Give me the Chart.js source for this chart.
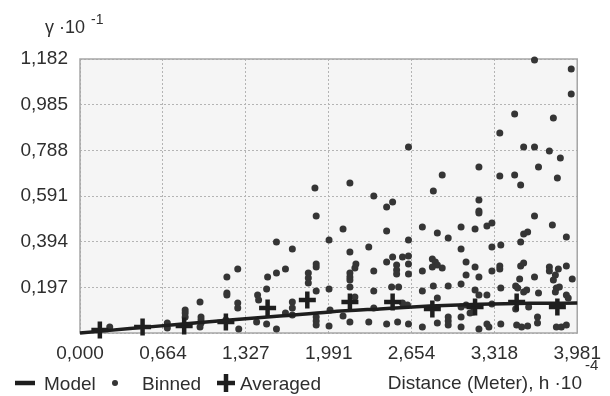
<!DOCTYPE html>
<html>
<head>
<meta charset="utf-8">
<script src="https://cdn.jsdelivr.net/npm/chart.js@4.4.1/dist/chart.umd.min.js"></script>
<style>
  html, body { margin: 0; padding: 0; background: #ffffff; }
  #wrap { width: 610px; height: 396px; position: relative; }
</style>
</head>
<body>
<div id="wrap"><canvas id="c" width="610" height="396"></canvas></div>
<script>
// Semivariogram: lag distance h (·10^-4 m) against semivariance γ (·10^-1)
const xTicks = [0, 0.664, 1.327, 1.991, 2.654, 3.318, 3.981];
const yTicks = [0, 0.197, 0.394, 0.591, 0.788, 0.985, 1.182];

// fitted model curve
const modelH     = [0, 0.4, 0.8, 1.2, 1.6, 2.0, 2.4, 2.8, 3.2, 3.6, 3.981];
const modelGamma = [0, 0.019, 0.038, 0.056, 0.073, 0.091, 0.104, 0.116, 0.124, 0.128, 0.129];

// averaged values per lag bin
const avgH     = [0.159, 0.501, 0.834, 1.168, 1.502, 1.820, 2.161, 2.503, 2.821, 3.163, 3.496, 3.822];
const avgGamma = [0.013, 0.026, 0.030, 0.047, 0.108, 0.142, 0.134, 0.134, 0.104, 0.112, 0.134, 0.112];

// binned empirical semivariances
const binnedH = [
  0.238, 0.699, 0.699, 0.842, 0.842, 0.842, 0.961, 0.969, 0.969, 0.969,
  0.961, 1.168, 1.176, 1.176, 1.176, 1.263, 1.263, 1.263, 1.271, 1.422,
  1.430, 1.414, 1.494, 1.502, 1.494, 1.573, 1.573, 1.573, 1.645, 1.645,
  1.700, 1.700, 1.700, 1.700, 1.828, 1.828, 1.828, 1.881, 1.891, 1.891,
  1.891, 1.891, 1.891, 1.891, 1.891, 1.994, 1.994, 2.002, 1.994,
  2.161, 2.352, 2.455, 2.503, 2.829, 2.106, 2.455, 2.741, 2.861, 2.948,
  2.630, 2.312, 2.161, 2.455, 2.503, 2.582, 2.630, 2.535, 2.535, 2.535,
  2.630, 2.630, 2.209, 2.201, 2.161, 2.161, 2.161, 2.352, 2.821, 2.845,
  2.861, 2.821, 2.900, 2.741, 2.161, 2.352, 2.495, 2.551, 2.829, 2.948,
  2.741, 2.201, 2.582, 2.622, 2.861, 2.106, 2.161, 2.312, 2.455, 2.543,
  2.630, 2.741, 2.861, 2.948, 2.948, 2.948, 2.352, 2.630, 2.900,
  3.639, 3.933, 3.933, 3.480, 3.790, 3.361, 3.552, 3.639, 3.758, 3.846,
  3.194, 3.671, 3.361, 3.480, 3.528, 3.822, 3.194, 3.194, 3.194, 3.639,
  3.051, 3.163, 3.258, 3.298, 3.782, 3.584, 3.552, 3.528, 3.894, 3.298,
  3.369, 3.051, 3.091, 3.163, 3.298, 3.361, 3.361, 3.528, 3.552, 3.091,
  3.194, 3.639, 3.758, 3.758, 3.830, 3.806, 3.790, 3.894, 3.941, 3.520,
  3.051, 3.369, 3.163, 3.194, 3.258, 3.488, 3.504, 3.552, 3.576, 3.671,
  3.814, 3.838, 3.806, 3.894, 3.909, 3.298, 3.051, 3.091, 3.592, 3.488,
  3.051, 3.051, 3.194, 3.258, 3.274, 3.369, 3.496, 3.536, 3.584, 3.663,
  3.663, 3.814, 3.854, 3.894, 3.123, 3.147
];
const binnedGamma = [
  0.026, 0.043, 0.022, 0.099, 0.086, 0.069, 0.134, 0.069, 0.056, 0.043,
  0.026, 0.056, 0.173, 0.164, 0.242, 0.276, 0.129, 0.108, 0.017, 0.164,
  0.142, 0.047, 0.190, 0.242, 0.039, 0.393, 0.259, 0.017, 0.276, 0.086,
  0.362, 0.134, 0.108, 0.078, 0.259, 0.237, 0.216, 0.626, 0.505, 0.285,
  0.298, 0.181, 0.069, 0.052, 0.035, 0.401, 0.190, 0.099, 0.030,
  0.647, 0.591, 0.544, 0.565, 0.613, 0.449, 0.440, 0.457, 0.431, 0.410,
  0.401, 0.371, 0.349, 0.306, 0.328, 0.328, 0.332, 0.293, 0.272, 0.255,
  0.298, 0.255, 0.298, 0.280, 0.259, 0.242, 0.229, 0.267, 0.319, 0.306,
  0.293, 0.285, 0.280, 0.267, 0.198, 0.181, 0.198, 0.198, 0.203, 0.203,
  0.181, 0.155, 0.129, 0.121, 0.151, 0.073, 0.047, 0.047, 0.039, 0.047,
  0.039, 0.026, 0.043, 0.069, 0.052, 0.035, 0.108, 0.802, 0.682,
  1.178, 1.139, 1.031, 0.945, 0.927, 0.863, 0.802, 0.802, 0.785, 0.755,
  0.716, 0.716, 0.677, 0.682, 0.638, 0.669, 0.574, 0.526, 0.518, 0.505,
  0.457, 0.449, 0.462, 0.475, 0.466, 0.436, 0.427, 0.393, 0.414, 0.371,
  0.380, 0.362, 0.306, 0.285, 0.267, 0.289, 0.276, 0.289, 0.302, 0.250,
  0.242, 0.242, 0.285, 0.267, 0.276, 0.250, 0.229, 0.289, 0.233, 0.233,
  0.211, 0.194, 0.186, 0.164, 0.164, 0.203, 0.194, 0.177, 0.186, 0.173,
  0.194, 0.198, 0.177, 0.164, 0.151, 0.125, 0.112, 0.121, 0.112, 0.104,
  0.069, 0.026, 0.017, 0.039, 0.026, 0.039, 0.035, 0.026, 0.030, 0.069,
  0.043, 0.026, 0.026, 0.035, 0.086, 0.091
];

const pairs = (xs, ys) => xs.map((x, i) => ({ x: x, y: ys[i] }));
const fmt = v => v.toFixed(3).replace('.', ',');

const FONT = '"Liberation Sans", Arial, sans-serif';
const TEXT = '#2e2e2e';
const INK = '#1e1e1e';
const DOT = '#353535';

// plot frame and light background
const framePlugin = {
  id: 'frame',
  beforeDraw(chart) {
    const a = chart.chartArea, ctx = chart.ctx;
    ctx.save();
    ctx.fillStyle = '#f5f5f5';
    ctx.fillRect(a.left, a.top, a.right - a.left, a.bottom - a.top);
    ctx.restore();
  },
  beforeDatasetsDraw(chart) {
    const a = chart.chartArea, ctx = chart.ctx;
    ctx.save();
    ctx.strokeStyle = '#a6a6a6';
    ctx.lineWidth = 1.5;
    ctx.strokeRect(a.left, a.top, a.right - a.left, a.bottom - a.top);
    ctx.restore();
  }
};

// axis captions and legend row
const captionPlugin = {
  id: 'captions',
  afterDraw(chart) {
    const ctx = chart.ctx;
    ctx.save();
    ctx.fillStyle = TEXT;
    ctx.textBaseline = 'alphabetic';
    ctx.textAlign = 'left';

    // y caption
    ctx.font = '18px ' + FONT;
    ctx.fillText('γ', 45, 33);
    ctx.fillText('·10', 59, 33);
    ctx.font = '14px ' + FONT;
    ctx.fillText('-1', 91, 24);

    // legend
    const ly = 383;
    ctx.strokeStyle = INK;
    ctx.lineWidth = 4.5;
    ctx.beginPath(); ctx.moveTo(15, ly); ctx.lineTo(35, ly); ctx.stroke();
    ctx.font = '19px ' + FONT;
    ctx.fillText('Model', 44, 390);

    ctx.fillStyle = DOT;
    ctx.beginPath(); ctx.arc(115, ly, 3, 0, Math.PI * 2); ctx.fill();
    ctx.fillStyle = TEXT;
    ctx.fillText('Binned', 142, 390);

    ctx.lineWidth = 4.5;
    ctx.beginPath();
    ctx.moveTo(217, ly); ctx.lineTo(235, ly);
    ctx.moveTo(226, ly - 9); ctx.lineTo(226, ly + 9);
    ctx.stroke();
    ctx.fillText('Averaged', 240, 390);

    // x caption
    ctx.textAlign = 'right';
    ctx.fillText('Distance (Meter), h ·10', 582, 389);
    ctx.textAlign = 'left';
    ctx.font = '15px ' + FONT;
    ctx.fillText('-4', 585, 370);
    ctx.restore();
  }
};

const gridStyle = { color: '#b4b4b4', lineWidth: 1, drawTicks: false };

new Chart(document.getElementById('c'), {
  type: 'scatter',
  data: {
    datasets: [
      {
        label: 'Model',
        data: pairs(modelH, modelGamma),
        showLine: true,
        borderColor: INK,
        borderWidth: 3.5,
        pointRadius: 0,
        cubicInterpolationMode: 'monotone',
        clip: false,
        order: 0
      },
      {
        label: 'Averaged',
        data: pairs(avgH, avgGamma),
        pointStyle: 'cross',
        pointRadius: 8.5,
        pointBorderWidth: 4.5,
        borderColor: INK,
        backgroundColor: INK,
        clip: false,
        order: 1
      },
      {
        label: 'Binned',
        data: pairs(binnedH, binnedGamma),
        pointStyle: 'circle',
        pointRadius: 3.5,
        borderWidth: 0,
        backgroundColor: DOT,
        clip: false,
        order: 2
      }
    ]
  },
  options: {
    responsive: false,
    animation: false,
    devicePixelRatio: 1,
    layout: { padding: { top: 59, right: 29, left: 0, bottom: 0 } },
    plugins: { legend: { display: false }, tooltip: { enabled: false } },
    scales: {
      x: {
        type: 'linear',
        min: 0,
        max: xTicks[xTicks.length - 1],
        afterBuildTicks: s => { s.ticks = xTicks.map(v => ({ value: v })); },
        afterFit: s => { s.height = 63; },
        grid: gridStyle,
        border: { display: false, dash: [2, 2] },
        ticks: {
          color: TEXT,
          font: { family: FONT, size: 19 },
          padding: 9,
          maxRotation: 0,
          autoSkip: false,
          callback: v => fmt(v)
        }
      },
      y: {
        type: 'linear',
        min: 0,
        max: yTicks[yTicks.length - 1],
        afterBuildTicks: s => { s.ticks = yTicks.map(v => ({ value: v })); },
        afterFit: s => { s.width = 80; },
        grid: gridStyle,
        border: { display: false, dash: [2, 2] },
        ticks: {
          color: TEXT,
          font: { family: FONT, size: 19 },
          padding: 12,
          autoSkip: false,
          callback: v => (v === 0 ? '' : fmt(v))
        }
      }
    }
  },
  plugins: [framePlugin, captionPlugin]
});
</script>
</body>
</html>
